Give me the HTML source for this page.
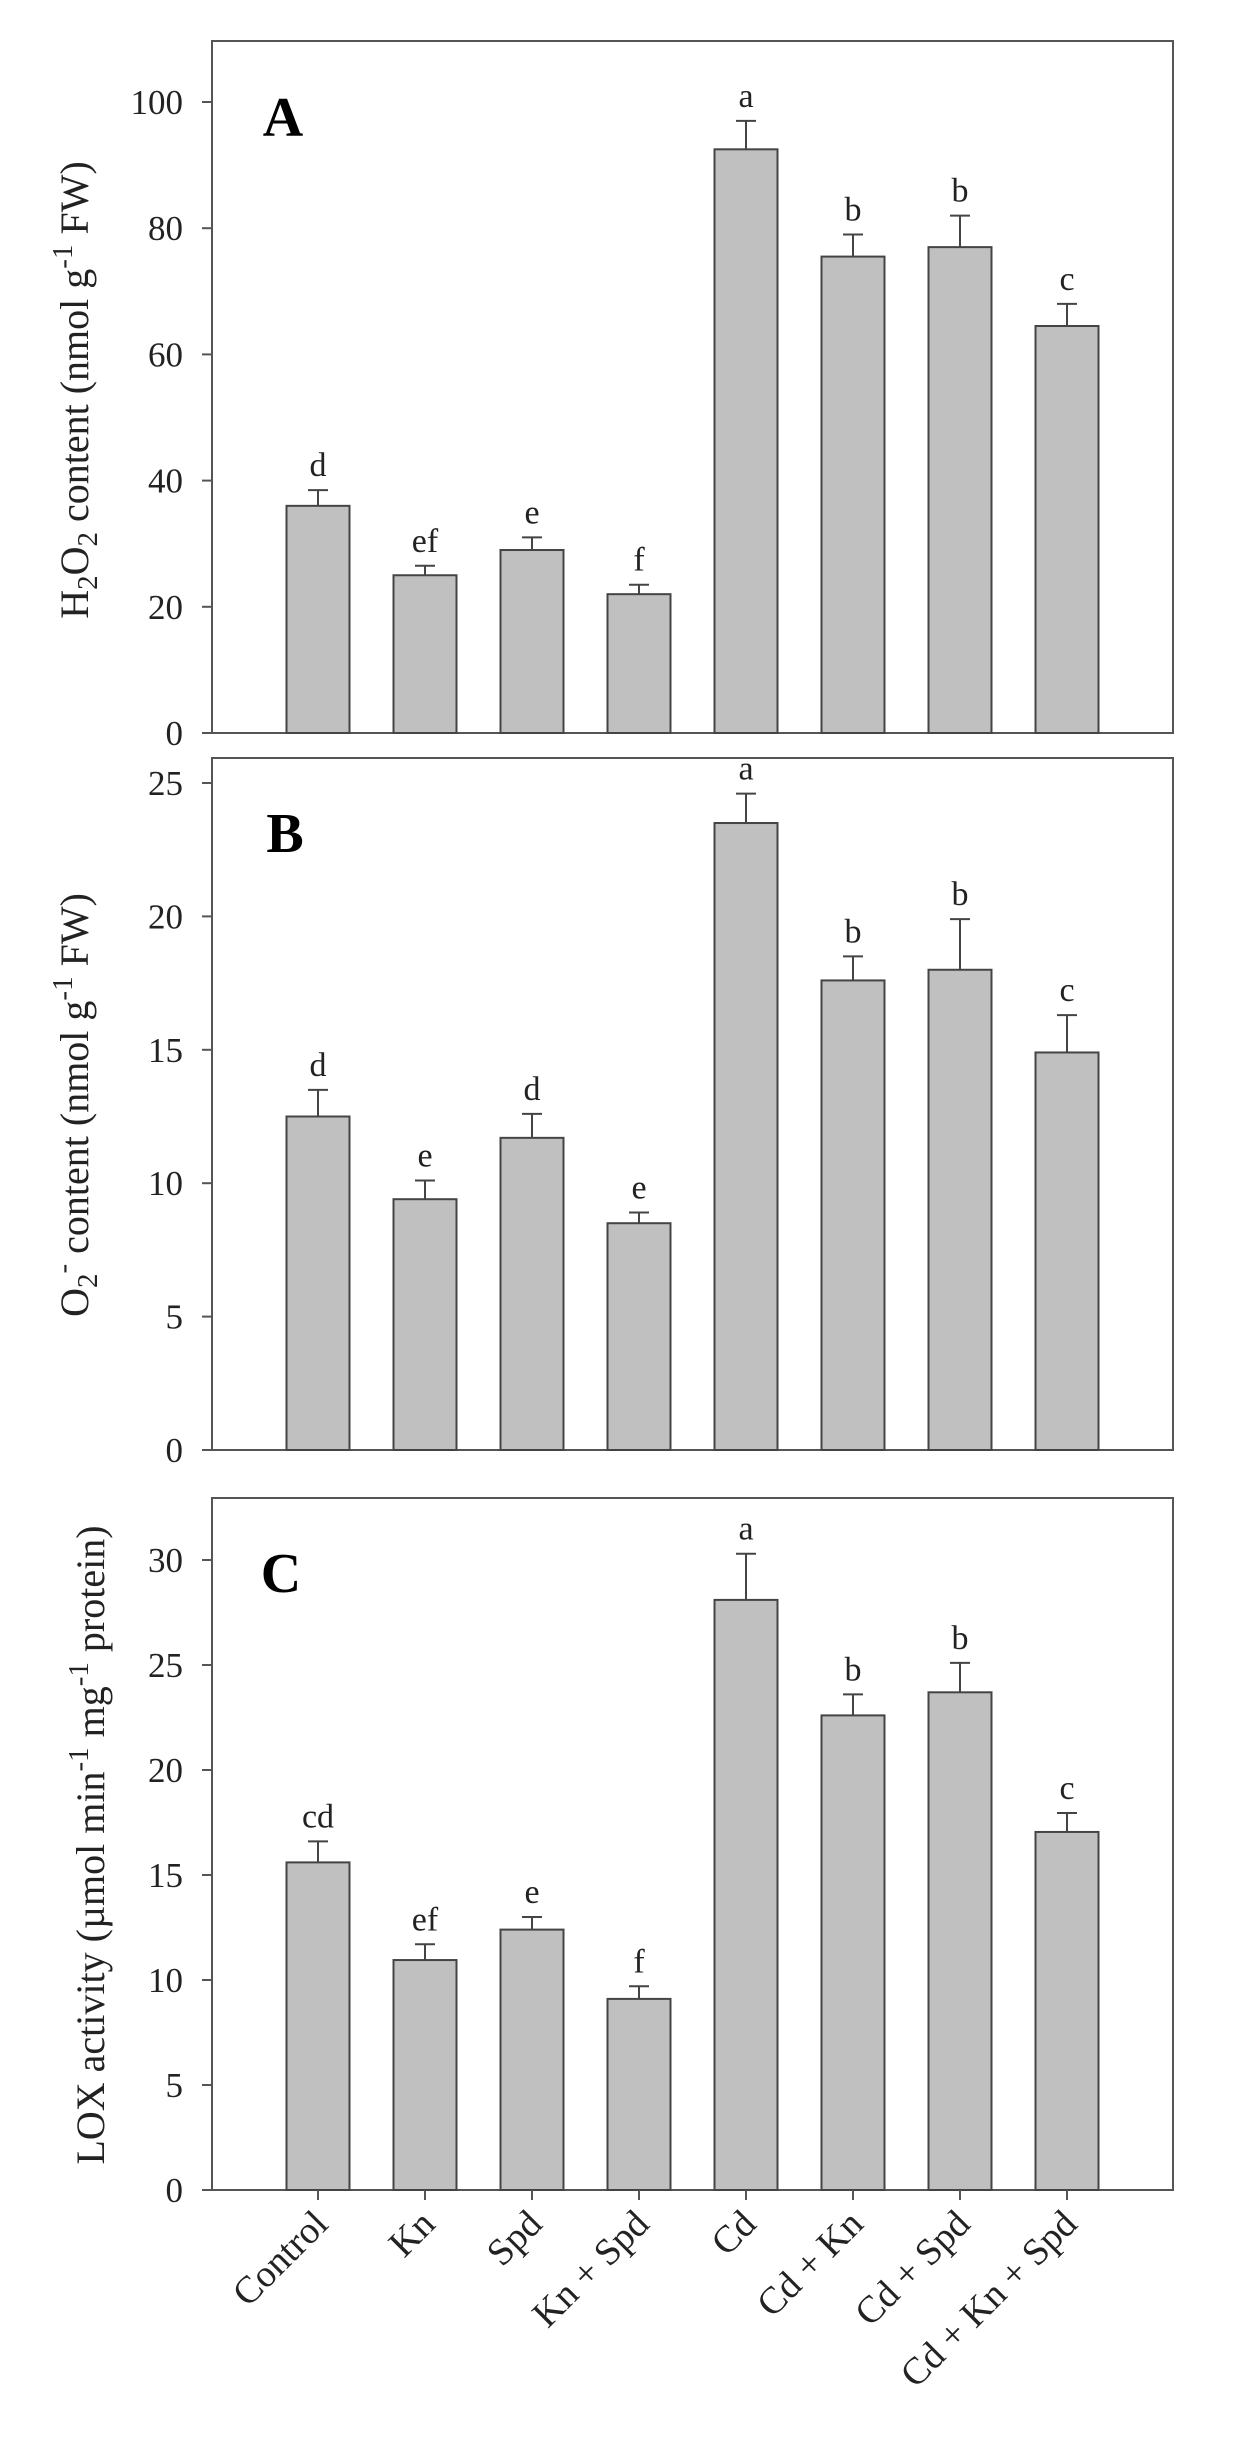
<!DOCTYPE html>
<html><head><meta charset="utf-8"><style>
body{margin:0;background:#fff}
svg{display:block;font-family:"Liberation Serif",serif}
</style></head><body>
<svg id="chart" width="1240" height="2444" viewBox="0 0 1240 2444" xmlns="http://www.w3.org/2000/svg"></svg>
<script>
const categories = ["Control","Kn","Spd","Kn + Spd","Cd","Cd + Kn","Cd + Spd","Cd + Kn + Spd"];
const valuesA = [36,25,29,22,92.5,75.5,77,64.5];
const errorsA = [2.5,1.5,2,1.5,4.5,3.5,5,3.5];
const lettersA = ["d","ef","e","f","a","b","b","c"];
const ticksA = [0,20,40,60,80,100];
const valuesB = [12.5,9.4,11.7,8.5,23.5,17.6,18,14.9];
const errorsB = [1,0.7,0.9,0.4,1.1,0.9,1.9,1.4];
const lettersB = ["d","e","d","e","a","b","b","c"];
const ticksB = [0,5,10,15,20,25];
const valuesC = [15.6,10.95,12.4,9.1,28.1,22.6,23.7,17.05];
const errorsC = [1,0.75,0.6,0.6,2.2,1,1.4,0.9];
const lettersC = ["cd","ef","e","f","a","b","b","c"];
const ticksC = [0,5,10,15,20,25,30];

const svg = document.getElementById('chart');
const NS = 'http://www.w3.org/2000/svg';
function mk(tag, attrs, parent){const e=document.createElementNS(NS,tag);for(const k in attrs)e.setAttribute(k,attrs[k]);(parent||svg).appendChild(e);return e;}
const xLeft=212, xRight=1173, x0=318, step=107, bw=63;
function xc(i){return x0+i*step;}

const panels=[
 {key:'a',vals:valuesA,errs:errorsA,lets:lettersA,ticks:ticksA,top:41,bottom:733,vmax:100,ytop:102,label:'A',lx:283,ly:136,titleY:390},
 {key:'b',vals:valuesB,errs:errorsB,lets:lettersB,ticks:ticksB,top:758,bottom:1450,vmax:25,ytop:783,label:'B',lx:285,ly:852,titleY:1110},
 {key:'c',vals:valuesC,errs:errorsC,lets:lettersC,ticks:ticksC,top:1498,bottom:2190,vmax:30,ytop:1560,label:'C',lx:281,ly:1592,titleY:1845}
];
panels.forEach((p,pi)=>{
  const g=mk('g',{});
  
  
  const y=v=>p.bottom-(v/p.vmax)*(p.bottom-p.ytop);
  const fr=mk('rect',{x:xLeft,y:p.top,width:xRight-xLeft,height:p.bottom-p.top,fill:'none',stroke:'#555','stroke-width':2},g);
  
  
  p.ticks.forEach(t=>{
    const ty=y(t);
    const tl=mk('line',{x1:xLeft-10,x2:xLeft,y1:ty,y2:ty,stroke:'#555','stroke-width':2},g);
    
    
    const tx=mk('text',{x:183,y:ty+12,'text-anchor':'end','font-size':35,fill:'#222'},g);
    tx.textContent=t;
    
    
  });
  p.vals.forEach((v,i)=>{
    const cx=xc(i), top=y(v), et=y(v+p.errs[i]);
    const eb=mk('line',{x1:cx,x2:cx,y1:top,y2:et,stroke:'#444','stroke-width':2},g);
    
    
    const cap=mk('line',{x1:cx-10,x2:cx+10,y1:et,y2:et,stroke:'#444','stroke-width':2},g);
    
    
    const r=mk('rect',{x:cx-bw/2,y:top,width:bw,height:p.bottom-top,fill:'#c0c0c0',stroke:'#444','stroke-width':2},g);
    
    
    const lt=mk('text',{x:cx,y:et-14,'text-anchor':'middle','font-size':34,fill:'#222'},g);
    lt.textContent=p.lets[i];
    
    
  });
  const pl=mk('text',{x:p.lx,y:p.ly,'text-anchor':'middle','font-size':56,'font-weight':'bold',fill:'#000'},g);
  pl.textContent=p.label;
  
  
});

// Y-axis titles
const tA=mk('text',{transform:'translate(88,390) rotate(-90)','text-anchor':'middle','font-size':40,fill:'#222'});
tA.innerHTML='H<tspan font-size="29" dy="9">2</tspan><tspan dy="-9">O</tspan><tspan font-size="29" dy="9">2</tspan><tspan dy="-9"> content (nmol g</tspan><tspan font-size="29" dy="-16">-1</tspan><tspan dy="16"> FW)</tspan>';


const tB=mk('text',{transform:'translate(88,1105) rotate(-90)','text-anchor':'middle','font-size':40,fill:'#222'});
tB.innerHTML='O<tspan font-size="29" dy="9">2</tspan><tspan font-size="29" dy="-25">-</tspan><tspan dy="16"> content (nmol g</tspan><tspan font-size="29" dy="-16">-1</tspan><tspan dy="16"> FW)</tspan>';


const tC=mk('text',{transform:'translate(104,1845) rotate(-90)','text-anchor':'middle','font-size':40,fill:'#222'});
tC.innerHTML='LOX activity (µmol min<tspan font-size="29" dy="-16">-1</tspan><tspan dy="16"> mg</tspan><tspan font-size="29" dy="-16">-1</tspan><tspan dy="16"> protein)</tspan>';



// X ticks and labels (panel C)
categories.forEach((c,i)=>{
  const cx=xc(i);
  const tk=mk('line',{x1:cx,x2:cx,y1:2190,y2:2200,stroke:'#555','stroke-width':2});
  
  
  const t=mk('text',{transform:'translate('+(cx+12)+',2226) rotate(-45)','text-anchor':'end','font-size':38,fill:'#222'});
  t.textContent=c;
  
  
});
</script>
</body></html>
